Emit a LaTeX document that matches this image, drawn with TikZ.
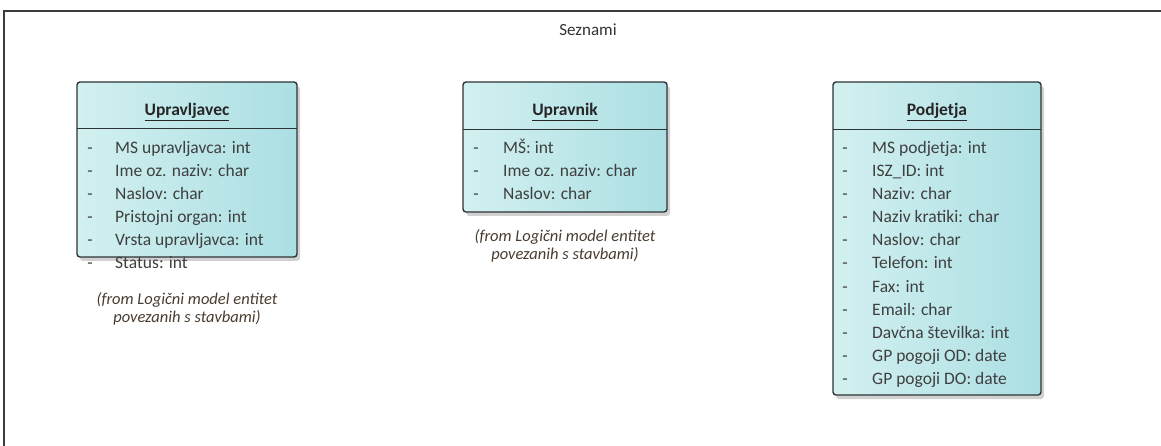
\documentclass[tikz,border=0pt]{standalone}
\usepackage{fontspec}
\setmainfont{Carlito}
\usepackage{tikz}
\usetikzlibrary{shadows}

\definecolor{framegray}{HTML}{3C3C3C}
\definecolor{boxline}{HTML}{2E3436}
\definecolor{boxleft}{HTML}{D3F0F0}
\definecolor{boxright}{HTML}{ABDFE3}
\definecolor{attrtext}{HTML}{3F3F3F}
\definecolor{fromtext}{HTML}{4A3C30}

\tikzset{
  classbox/.style={draw=boxline, line width=1.4pt, rounded corners=3pt,
    left color=boxleft, right color=boxright,
    drop shadow={shadow xshift=3pt, shadow yshift=-4pt, fill=black, opacity=0.18}},
  classname/.style={font=\fontsize{17.5}{20}\selectfont\bfseries, text=black!85, inner sep=0pt},
  attr/.style={font=\fontsize{17.5}{20}\selectfont, text=attrtext, anchor=base west, inner sep=0pt},
  dashmark/.style={font=\fontsize{17.5}{20}\selectfont, text=attrtext, anchor=base, inner sep=0pt},
  fromnote/.style={font=\fontsize{16.5}{19}\selectfont\itshape, text=fromtext, inner sep=0pt}
}

\begin{document}
\begin{tikzpicture}[x=1pt,y=-1pt]

\fill[white] (0,0) rectangle (1161,446);
\useasboundingbox (0,0) rectangle (1161,446);

\draw[framegray, line width=2.2pt] (4,446) -- (4,11) -- (1161,11);
\node[font=\fontsize{17}{20}\selectfont, text=black!80] (seznami) at (588,30) {Seznami};

\path[classbox] (77,82) rectangle (297,257);
\path[classbox] (463,82) rectangle (667,212);
\path[classbox] (833,82) rectangle (1041,395);

\draw[boxline, line width=1pt] (77,129) -- (297,129);
\draw[boxline, line width=1pt] (463,130) -- (667,130);
\draw[boxline, line width=1pt] (833,130) -- (1041,130);

\node[classname] (upravljavec) at (187,112) {\underline{Upravljavec}};
\node[classname] (upravnik) at (565,112) {\underline{Upravnik}};
\node[classname] (podjetja) at (937,112) {\underline{Podjetja}};

\node[dashmark] (u1d) at (90,154) {-};
\node[dashmark] (u2d) at (90,177) {-};
\node[dashmark] (u3d) at (90,200) {-};
\node[dashmark] (u4d) at (90,223) {-};
\node[dashmark] (u5d) at (90,246) {-};
\node[dashmark] (u6d) at (90,269) {-};

\node[attr] (u1) at (115,154) {MS upravljavca: int};
\node[attr] (u2) at (115,177) {Ime oz. naziv: char};
\node[attr] (u3) at (115,200) {Naslov: char};
\node[attr] (u4) at (115,223) {Pristojni organ: int};
\node[attr] (u5) at (115,246) {Vrsta upravljavca: int};
\node[attr] (u6) at (115,269) {Status: int};

\node[fromnote] (ufrom1) at (187,300) {(from Logični model entitet};
\node[fromnote] (ufrom2) at (187,318) {povezanih s stavbami)};

\node[dashmark] (r1d) at (476,154) {-};
\node[dashmark] (r2d) at (476,177) {-};
\node[dashmark] (r3d) at (476,200) {-};

\node[attr] (r1) at (503,154) {MŠ: int};
\node[attr] (r2) at (503,177) {Ime oz. naziv: char};
\node[attr] (r3) at (503,200) {Naslov: char};

\node[fromnote] (rfrom1) at (565,237) {(from Logični model entitet};
\node[fromnote] (rfrom2) at (565,255) {povezanih s stavbami)};

\node[dashmark] (p1d) at (845,154) {-};
\node[dashmark] (p2d) at (845,177) {-};
\node[dashmark] (p3d) at (845,200) {-};
\node[dashmark] (p4d) at (845,223) {-};
\node[dashmark] (p5d) at (845,246) {-};
\node[dashmark] (p6d) at (845,269) {-};
\node[dashmark] (p7d) at (845,292) {-};
\node[dashmark] (p8d) at (845,315) {-};
\node[dashmark] (p9d) at (845,338) {-};
\node[dashmark] (p10d) at (845,361) {-};
\node[dashmark] (p11d) at (845,384) {-};

\node[attr] (p1) at (872,154) {MS podjetja: int};
\node[attr] (p2) at (872,177) {ISZ\_ID: int};
\node[attr] (p3) at (872,200) {Naziv: char};
\node[attr] (p4) at (872,223) {Naziv kratiki: char};
\node[attr] (p5) at (872,246) {Naslov: char};
\node[attr] (p6) at (872,269) {Telefon: int};
\node[attr] (p7) at (872,292) {Fax: int};
\node[attr] (p8) at (872,315) {Email: char};
\node[attr] (p9) at (872,338) {Davčna številka: int};
\node[attr] (p10) at (872,361) {GP pogoji OD: date};
\node[attr] (p11) at (872,384) {GP pogoji DO: date};

\end{tikzpicture}
\end{document}
